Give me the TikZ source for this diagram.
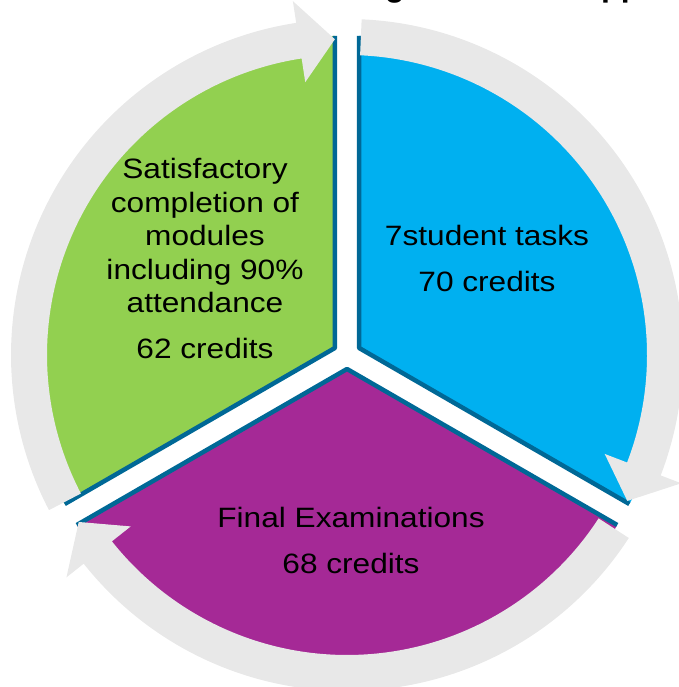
\documentclass[tikz,border=0pt]{standalone}
\usepackage{fontspec}
\setmainfont{Liberation Sans}[FakeStretch=1.13]
\newfontfamily\titlefont{Liberation Sans}
\definecolor{segGreen}{RGB}{146,208,80}
\definecolor{segBlue}{RGB}{0,176,240}
\definecolor{segPurple}{RGB}{165,41,150}
\definecolor{edgeBlue}{RGB}{0,104,150}
\definecolor{ringGray}{RGB}{232,232,232}
\begin{document}
\begin{tikzpicture}[x=1pt,y=1pt,
  seglabel/.style={align=center,font=\fontsize{28}{33.5}\selectfont,text=black,inner sep=0pt},
  segedge/.style={draw=edgeBlue,line width=4.5pt,line join=round},
  ringarrow/.style={fill=ringGray},
  titlefrag/.style={anchor=base west,inner sep=0pt,font=\titlefont\bfseries\fontsize{32}{38}\selectfont}]
\useasboundingbox (0,0) rectangle (678,687);
\begin{scope}[shift={(347,332)}]
  % apexes and corners of the exploded segments
  \coordinate (B0) at (12.12,7);   \coordinate (B1) at (12.12,319);  \coordinate (B2) at (282.32,-149);
  \coordinate (G0) at (-12.12,7);  \coordinate (G1) at (-12.12,319); \coordinate (G2) at (-282.32,-149);
  \coordinate (P0) at (0,-14);     \coordinate (P1) at (-270.2,-170); \coordinate (P2) at (270.2,-170);
  % segments
  \fill[segBlue] (B0) -- (B1) arc[start angle=90,end angle=-30,radius=312] -- cycle;
  \fill[segGreen] (G0) -- (G1) arc[start angle=90,end angle=210,radius=312] -- cycle;
  \fill[segPurple] (P0) -- (P1) arc[start angle=210,end angle=330,radius=312] -- cycle;
  % dark edges along the straight sides
  \draw[segedge] (B1) -- (B0) -- (B2);
  \draw[segedge] (G1) -- (G0) -- (G2);
  \draw[segedge] (P1) -- (P0) -- (P2);
  % grey circular arrows (clockwise)
  \foreach \aa/\bb in {87.5/-27.5, -33/-148.1, 207.5/92.2}{
    \pgfmathsetmacro\hh{\bb+6.5}
    \fill[ringarrow] (\aa:336) arc[start angle=\aa,end angle=\hh,radius=336]
      -- (\hh:358) -- (\bb:316) -- (\hh:276) -- (\hh:300)
      arc[start angle=\hh,end angle=\aa,radius=300] -- cycle;
  }
\end{scope}
% labels
\node[seglabel] (greenlabel) at (205,428.5) {Satisfactory\\completion of\\modules\\including 90\%\\attendance\\[12.5pt]62 credits};
\node[seglabel] (bluelabel) at (487,429) {7student tasks\\[12.5pt]70 credits};
\node[seglabel] (purplelabel) at (351,147) {Final Examinations\\[12.5pt]68 credits};
% clipped title fragments at the top edge
\node[titlefrag] (titleg) at (385,690.7) {g};
\node[titlefrag] (titlepp) at (601,690.7) {pp};
\end{tikzpicture}
\end{document}
